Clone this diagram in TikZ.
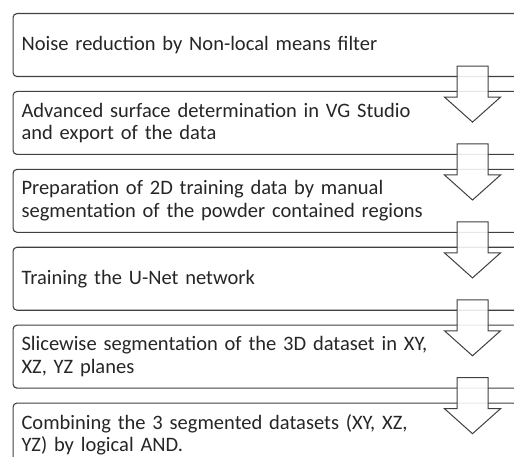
\documentclass[tikz,border=0pt]{standalone}
\usepackage{fontspec}
\setmainfont{Carlito}
\usetikzlibrary{positioning,calc}

\begin{document}
\begin{tikzpicture}[x=1pt, y=1pt,
    stepbox/.style={draw=black!75, line width=1.1pt, rounded corners=4pt, fill=white,
      anchor=north west, text width=500pt, align=left, inner xsep=8.5pt, inner ysep=0pt,
      minimum height=63pt, font=\fontsize{20.5}{22.5}\selectfont, text=black!85},
    downarrow/.style={draw=black!75, line width=1pt, fill=white, fill opacity=0.88, line join=miter}]
    \useasboundingbox (0,0) rectangle (514,456);
    \node[stepbox] (b1) at (12.5,443) {Noise reduction by Non-local means filter};
    \node[stepbox, below=13.8pt of b1] (b2) {Advanced surface determination in VG Studio\\and export of the data};
    \node[stepbox, below=13.8pt of b2] (b3) {Preparation of 2D training data by manual\\segmentation of the powder contained regions};
    \node[stepbox, below=13.8pt of b3] (b4) {Training the U-Net network};
    \node[stepbox, below=13.8pt of b4] (b5) {Slicewise segmentation of the 3D dataset in XY,\\XZ, YZ planes};
    \node[stepbox, below=13.8pt of b5] (b6) {Combining the 3 segmented datasets (XY, XZ,\\YZ) by logical AND.};
    % block arrows between the steps
    \foreach \i in {1,...,5}
      \draw[downarrow] ($(b\i.south west)+(444.5,11)$) -- ++(31,0) -- ++(0,-31) -- ++(12.5,0)
        -- ++(-28,-25) -- ++(-28,25) -- ++(12.5,0) -- cycle;
\end{tikzpicture}
\end{document}
